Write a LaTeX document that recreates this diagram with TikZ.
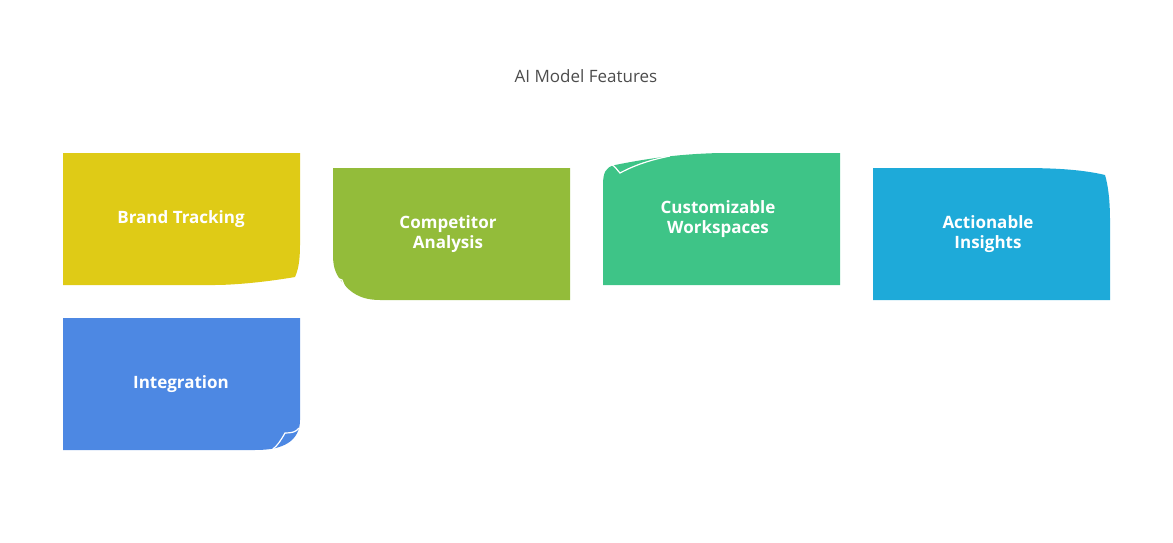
\documentclass[tikz,border=0pt]{standalone}
\usepackage{fontspec}
\setmainfont{Open Sans}
\begin{document}
\begin{tikzpicture}[x=1pt,y=-1pt,
  lbl/.style={text=white,font=\fontsize{17}{20}\selectfont\bfseries,align=center},
  fold/.style={draw=white,line width=1.2pt}]
\useasboundingbox (0,0) rectangle (1173,543);
\definecolor{cy}{HTML}{DFCB16}\definecolor{cg}{HTML}{93BC3A}
\definecolor{ct}{HTML}{3EC487}\definecolor{cb}{HTML}{1EAAD9}\definecolor{ci}{HTML}{4D88E3}
\node[text=black!70,font=\fontsize{17}{20}\selectfont] (title) at (586,76) {AI Model Features};
% Brand Tracking
\fill[cy] (63,153) -- (300,153) -- (300,245) .. controls (300,262) and (298,270) .. (295,277) .. controls (260,283) and (230,285) .. (215,285) -- (63,285) -- cycle;
\node[lbl] (b) at (181,219) {Brand Tracking};
% Competitor Analysis
\fill[cg] (333,168) -- (570,168) -- (570,300) -- (380,300) .. controls (360,300) and (350,292) .. (343,283) .. controls (336,275) and (333,268) .. (333,255) -- cycle;
\draw[fold] (334,277) -- (342,280) .. controls (344,286) and (347,292) .. (352,296);
\node[lbl] (c) at (448,234) {Competitor\\Analysis};
% Customizable Workspaces
\fill[ct] (603,285) -- (840,285) -- (840,153) -- (720,153) .. controls (680,154) and (650,158) .. (615,165) .. controls (606,167) and (603,172) .. (603,185) -- cycle;
\draw[fold] (612,165) .. controls (615,166) and (617,170) .. (620,173) .. controls (635,165) and (650,160) .. (670,156);
\node[lbl] (w) at (718,219) {Customizable\\Workspaces};
% Actionable Insights
\fill[cb] (873,300) -- (1110,300) -- (1110,220) .. controls (1110,200) and (1108,185) .. (1105,175) .. controls (1080,169) and (1050,168) .. (1020,168) -- (873,168) -- cycle;
\node[lbl] (a) at (988,234) {Actionable\\Insights};
% Integration
\fill[ci] (63,318) -- (300,318) -- (300,420) .. controls (300,430) and (296,438) .. (288,443) .. controls (280,448) and (270,450) .. (255,450) -- (63,450) -- cycle;
\draw[fold] (299,428) .. controls (296,432) and (292,433) .. (285,433) .. controls (281,440) and (278,445) .. (273,449);
\node[lbl] (i) at (181,384) {Integration};
\end{tikzpicture}
\end{document}
